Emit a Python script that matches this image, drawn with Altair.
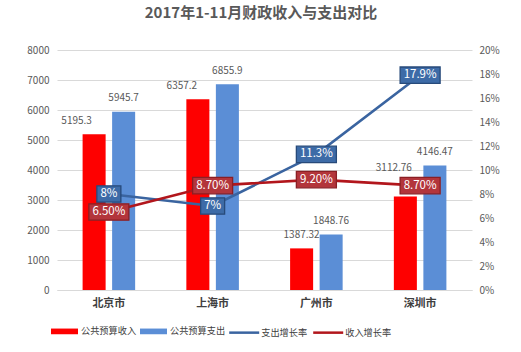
import altair as alt
import pandas as pd

# ---- data ----
cities = ["北京市", "上海市", "广州市", "深圳市"]
revenue = [5195.3, 6357.2, 1387.32, 3112.76]
expenditure = [5945.7, 6855.9, 1848.76, 4146.47]
revenue_labels = ["5195.3", "6357.2", "1387.32", "3112.76"]
expenditure_labels = ["5945.7", "6855.9", "1848.76", "4146.47"]
exp_growth = [8, 7, 11.3, 17.9]
rev_growth = [6.5, 8.7, 9.2, 8.7]
exp_growth_labels = ["8%", "7%", "11.3%", "17.9%"]
rev_growth_labels = ["6.50%", "8.70%", "9.20%", "8.70%"]
bar_series = ["公共预算收入", "公共预算支出"]
line_series = ["支出增长率", "收入增长率"]
left_ticks = [0, 1000, 2000, 3000, 4000, 5000, 6000, 7000, 8000]
right_ticks = [0, 2, 4, 6, 8, 10, 12, 14, 16, 18, 20]

bars = pd.DataFrame({
    "city": cities * 2,
    "series": [bar_series[0]] * 4 + [bar_series[1]] * 4,
    "value": revenue + expenditure,
    "label": revenue_labels + expenditure_labels,
})
lines = pd.DataFrame({
    "city": cities * 2,
    "series": [line_series[0]] * 4 + [line_series[1]] * 4,
    "rate": exp_growth + rev_growth,
    "label": exp_growth_labels + rev_growth_labels,
})

FONT = "Noto Sans CJK SC"
bar_colors = ["#fe0000", "#5b8ed6"]
line_colors = ["#3a64a0", "#b2161c"]

x_enc = alt.X("city:N", sort=cities, title=None,
              scale=alt.Scale(paddingInner=0, paddingOuter=0),
              axis=alt.Axis(labelAngle=0, ticks=False, domainColor="#d9d9d9",
                            labelFontSize=11, labelFontWeight="bold",
                            labelColor="#404040", labelPadding=7, labelFont=FONT))
xoff = alt.XOffset("series:N", sort=bar_series,
                   scale=alt.Scale(paddingInner=0.22, paddingOuter=0.8675))
y_left = alt.Y("value:Q", title=None,
               scale=alt.Scale(domain=[0, 8000], nice=False),
               axis=alt.Axis(values=left_ticks, grid=True, gridColor="#d9d9d9",
                             ticks=False, domain=False, labelColor="#595959", format="d",
                             labelFontSize=10, labelPadding=8, labelFont=FONT))

leg_common = dict(title=None, orient="none", direction="horizontal", columns=2,
                  symbolSize=900, labelFontSize=9.2, labelFont=FONT,
                  labelColor="#404040")
bar_sym = "M-0.9,-0.19 L0.9,-0.19 L0.9,0.19 L-0.9,0.19 Z"
line_sym = "M-1,0 L1,0"

bar_layer = alt.Chart(bars).mark_bar().encode(
    x=x_enc, xOffset=xoff, y=y_left,
    color=alt.Color("series:N", sort=bar_series,
                    scale=alt.Scale(domain=bar_series, range=bar_colors),
                    legend=alt.Legend(legendX=-7.5, legendY=266, symbolType=bar_sym,
                                      symbolStrokeWidth=0, labelOffset=1.5,
                                      columnPadding=2, **leg_common)),
)

def bar_text(filter_expr, dx, dy):
    return alt.Chart(bars).transform_filter(filter_expr).mark_text(
        dx=dx, dy=dy, fontSize=10, color="#595959", font=FONT
    ).encode(x=x_enc, xOffset=xoff, y=y_left, text="label:N")

r = bar_series[0]
texts = [
    bar_text(f"datum.series == '{bar_series[1]}'", 0, -13.5),
    bar_text(f"datum.series == '{r}' && datum.city == '{cities[0]}'", -17.5, -13.5),
    bar_text(f"datum.series == '{r}' && datum.city == '{cities[1]}'", -16, -13),
    bar_text(f"datum.series == '{r}' && datum.city == '{cities[2]}'", 0, -13),
    bar_text(f"datum.series == '{r}' && datum.city == '{cities[3]}'", -11.5, -28.5),
]

y_right = alt.Y("rate:Q", title=None,
                scale=alt.Scale(domain=[0, 20], nice=False),
                axis=alt.Axis(orient="right", values=right_ticks, grid=False,
                              ticks=False, domain=False, labelColor="#595959",
                              labelFontSize=10, labelPadding=7, labelFont=FONT,
                              labelExpr="datum.value + '%'"))

line_layer = alt.Chart(lines).mark_line(strokeWidth=2.6).encode(
    x=x_enc, y=y_right,
    stroke=alt.Stroke("series:N", sort=line_series,
                      scale=alt.Scale(domain=line_series, range=line_colors),
                      legend=alt.Legend(legendX=170.7, legendY=266, symbolType=line_sym,
                                        symbolStrokeWidth=2.5, labelOffset=0.5,
                                        columnPadding=0, **leg_common)),
)

long_box = "M-1,-0.41 L1,-0.41 L1,0.41 L-1,0.41 Z"
short_box = "M-0.6,-0.41 L0.6,-0.41 L0.6,0.41 L-0.6,0.41 Z"
is_exp = f"datum.series == '{line_series[0]}'"
box_layer = alt.Chart(lines).mark_point(filled=True, size=1600, opacity=1, strokeWidth=1.3).encode(
    x=x_enc, y=y_right,
    shape=alt.condition("length(datum.label) <= 2", alt.value(short_box), alt.value(long_box)),
    fill=alt.condition(is_exp, alt.value("#3d6ba7"), alt.value("#b3353b")),
    stroke=alt.condition(is_exp, alt.value("#274a7a"), alt.value("#8a1f24")),
)
box_text = alt.Chart(lines).mark_text(color="white", fontSize=11.5, font=FONT).encode(
    x=x_enc, y=y_right, text="label:N")

left = alt.layer(bar_layer, *texts)
right = alt.layer(line_layer, box_layer, box_text)

chart = alt.layer(left, right).resolve_scale(y="independent").properties(
    width=415, height=240,
    title=alt.Title("2017年1-11月财政收入与支出对比", fontSize=15, fontWeight="bold",
                    color="#595959", font=FONT, anchor="middle", frame="group",
                    offset=24, dx=-3.5),
    padding={"left": 57, "top": 50, "right": 49, "bottom": 62},
    autosize=alt.AutoSizeParams(type="none"),
    background="white",
).configure_view(stroke=None)

chart.save("out.html", embed_options={"renderer": "svg", "actions": False})
